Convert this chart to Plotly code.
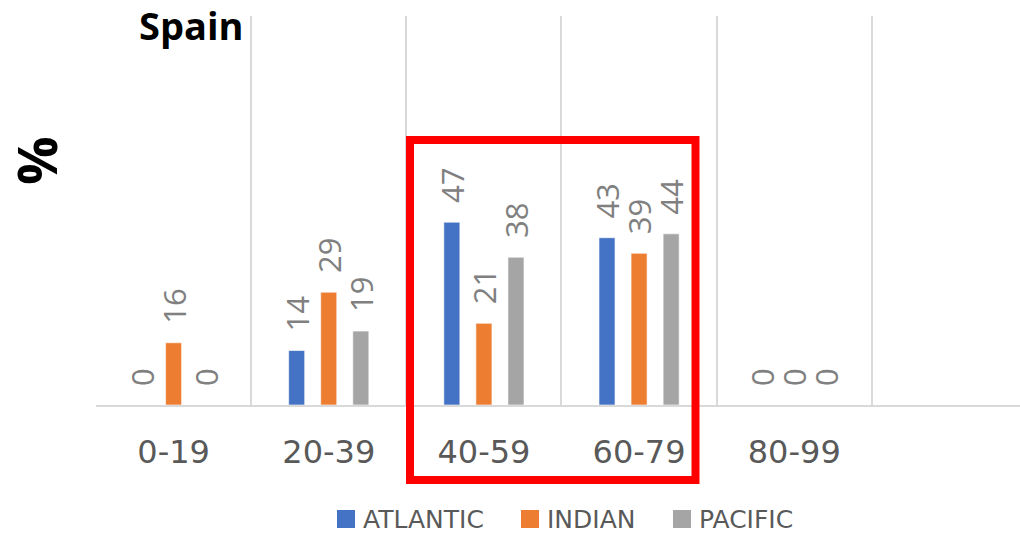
import plotly.graph_objects as go

# Age groups and share (%) per ocean basin
age_groups = ["0-19", "20-39", "40-59", "60-79", "80-99"]
atlantic = [0, 14, 47, 43, 0]
indian = [16, 29, 21, 39, 0]
pacific = [0, 19, 38, 44, 0]

series = [
    ("ATLANTIC", atlantic, "#4472C4"),
    ("INDIAN", indian, "#ED7D31"),
    ("PACIFIC", pacific, "#A5A5A5"),
]

W, H = 1020, 534
L, R, T, B = 96, 0, 16, 129
plot_w = W - L - R
plot_h = H - T - B


def px_x(x):
    return (x - L) / plot_w


def px_y(y):
    return (H - B - y) / plot_h


fig = go.Figure()
for name, vals, color in series:
    fig.add_trace(go.Bar(
        x=age_groups,
        y=vals,
        name=name,
        marker=dict(color=color, line=dict(color="rgba(255,255,255,0.6)", width=1)),
        texttemplate="\u00a0\u00a0%{y}",
        textposition="outside",
        textangle=-90,
        constraintext="none",
        cliponaxis=False,
        textfont=dict(family="Open Sans", size=31, color="#808080"),
        showlegend=False,
    ))

# Legend drawn as square swatches with labels below the axis
legend_square_left = [337, 521, 673]
swatch = 18
legend_cy = 519
shapes = [
    dict(
        type="rect",
        xref="paper", yref="paper",
        x0=px_x(410), x1=px_x(695.5),
        y0=px_y(480), y1=px_y(140),
        line=dict(color="#FF0000", width=8),
        fillcolor="rgba(0,0,0,0)",
    )
]
annotations = [
    dict(
        text="<b>Spain</b>",
        xref="paper", yref="paper",
        x=px_x(191), y=px_y(25),
        xanchor="center", yanchor="middle",
        showarrow=False,
        font=dict(family="Open Sans", size=38, color="#000000"),
    ),
    dict(
        text="<b>%</b>",
        xref="paper", yref="paper",
        x=px_x(36), y=px_y(161),
        xanchor="center", yanchor="middle",
        textangle=-90,
        showarrow=False,
        font=dict(family="Open Sans", size=54, color="#000000"),
    ),
]
for (name, _, color), sx in zip(series, legend_square_left):
    shapes.append(dict(
        type="rect",
        xref="paper", yref="paper",
        x0=px_x(sx), x1=px_x(sx + swatch),
        y0=px_y(legend_cy + swatch / 2), y1=px_y(legend_cy - swatch / 2),
        line=dict(width=0),
        fillcolor=color,
    ))
    annotations.append(dict(
        text=name,
        xref="paper", yref="paper",
        x=px_x(sx + swatch + 6), y=px_y(legend_cy),
        xanchor="left", yanchor="middle",
        showarrow=False,
        font=dict(family="DejaVu Sans", size=25, color="#595959"),
    ))

fig.update_layout(
    width=W,
    height=H,
    margin=dict(l=L, r=R, t=T, b=B, pad=0),
    paper_bgcolor="white",
    plot_bgcolor="white",
    barmode="group",
    bargap=0.38,
    bargroupgap=0.5,
    showlegend=False,
    xaxis=dict(
        type="category",
        range=[-0.5, 5.455],
        tickson="boundaries",
        showgrid=True,
        gridcolor="#D9D9D9",
        gridwidth=2,
        showline=True,
        linecolor="#D9D9D9",
        linewidth=2,
        ticks="",
        ticklabelstandoff=18,
        tickfont=dict(family="DejaVu Sans", size=32, color="#595959"),
        fixedrange=True,
    ),
    yaxis=dict(
        range=[0, 100],
        showgrid=False,
        zeroline=False,
        showline=False,
        showticklabels=False,
        ticks="",
        fixedrange=True,
    ),
    shapes=shapes,
    annotations=annotations,
)

fig.write_html("out.html")
